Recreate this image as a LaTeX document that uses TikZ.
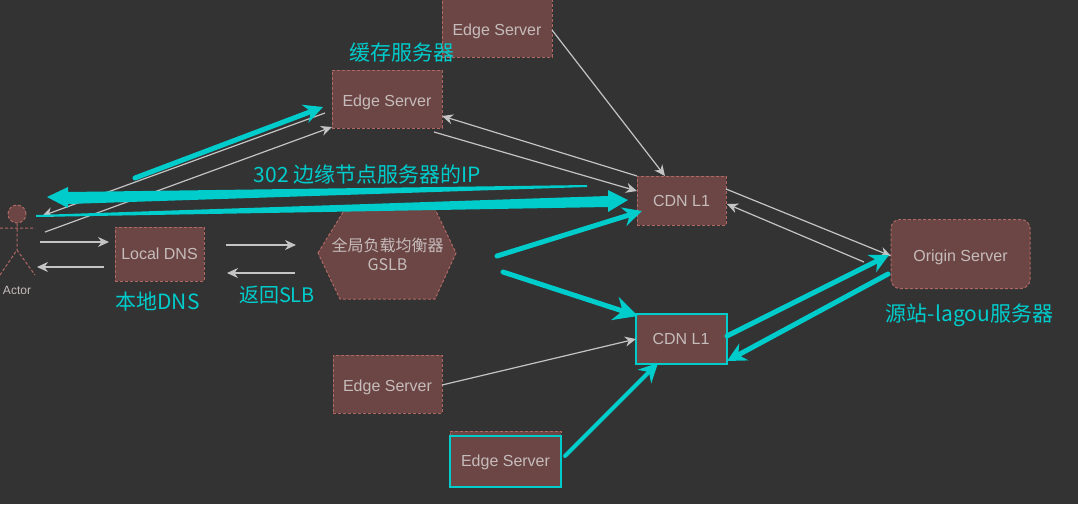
\documentclass[tikz,border=0pt]{standalone}
\usepackage{fontspec}
\setmainfont{Liberation Sans}
\newfontfamily\cjk{Noto Sans CJK SC}
\usetikzlibrary{arrows.meta}
\definecolor{bgc}{HTML}{333333}
\definecolor{boxc}{HTML}{6B4644}
\definecolor{dashc}{HTML}{B06864}
\definecolor{txtc}{HTML}{C6BCBC}
\definecolor{linec}{HTML}{C4C4C4}
\definecolor{tealc}{HTML}{00CCCC}
\tikzset{
 x=1pt,y=-1pt,
 srv/.style={draw=dashc,fill=boxc,densely dashed,line width=1pt,text=txtc,font=\fontsize{16}{18}\selectfont,inner sep=0pt,align=center},
 lowtext/.style={text height=14pt,text depth=0pt},
 lite/.style={draw=linec,line width=1.2pt,-{Stealth[length=11pt,width=10pt]}},
 thick teal/.style={draw=tealc,line width=5pt,line cap=round,-{Stealth[length=19pt,width=19pt]}},
 big teal/.style={draw=tealc,line width=5pt,line cap=round,-{Stealth[length=24pt,width=24pt]}},
 tagl/.style={text=tealc,font=\cjk\fontsize{21}{24}\selectfont,inner sep=0pt},
 actorline/.style={draw=dashc,densely dashed,line width=1pt},
 hi/.style={draw=tealc,line width=2pt}
}
\begin{document}
\begin{tikzpicture}
\fill[bgc] (0,0) rectangle (1078,504);
\useasboundingbox (0,0) rectangle (1078,504);
% nodes
\node[srv,lowtext,minimum width=110pt,minimum height=58pt] (eA) at (497,28) {Edge Server};
\node[srv,lowtext,minimum width=110pt,minimum height=58pt] (eB) at (387,99) {Edge Server};
\node[srv,minimum width=89pt,minimum height=49pt] (cA) at (681.5,200.5) {CDN L1};
\node[srv,minimum width=90pt,minimum height=49pt] (cB) at (681,338.5) {CDN L1};
\draw[hi] (cB.south west) rectangle (cB.north east);
\node[srv,lowtext,rounded corners=9pt,minimum width=139pt,minimum height=69pt] (ori) at (960.5,254) {Origin Server};
\node[srv,lowtext,minimum width=109pt,minimum height=58pt] (eC) at (387.5,384) {Edge Server};
\node[srv,lowtext,minimum width=111pt,minimum height=56pt] (eD) at (505.5,459) {Edge Server};
\draw[hi] (450,435.5) rectangle (561,487);
\node[srv,minimum width=89pt,minimum height=54pt] (dns) at (159.5,254) {Local DNS};
\path[draw=dashc,fill=boxc,densely dashed,line width=1pt] (318,253) -- (345,209) -- (435,209) -- (456,253) -- (435,299) -- (340,299) -- cycle;
\node[text=txtc,font=\cjk\fontsize{16}{19}\selectfont,align=center,inner sep=0pt] (gslb) at (387.5,254) {全局负载均衡器\\GSLB};
% actor
\node[circle,draw=dashc,fill=boxc,densely dashed,line width=1pt,minimum size=18pt,inner sep=0pt] (head) at (17,214) {};
\coordinate (armL) at (0,228); \coordinate (armR) at (35,228);
\coordinate (hip) at (17,250); \coordinate (legL) at (0,275); \coordinate (legR) at (35,275);
\draw[actorline] (head) -- (hip) (armL) -- (armR) (legL) -- (hip) -- (legR);
\node[text=txtc,font=\fontsize{12}{14}\selectfont,inner sep=0pt] (actor) at (17,290) {Actor};
% free connector ends
\coordinate (a1) at (45,232); \coordinate (a2) at (332,127);
\coordinate (b1) at (325,113); \coordinate (b2) at (42,216);
\coordinate (c1) at (40,242); \coordinate (c2) at (109,242);
\coordinate (d1) at (104,267); \coordinate (d2) at (37,267);
\coordinate (e1) at (226,245); \coordinate (e2) at (296,245);
\coordinate (f1) at (295,273); \coordinate (f2) at (227,273);
\coordinate (g1) at (434,132); \coordinate (g2) at (637,191);
\coordinate (h1) at (637,176); \coordinate (h2) at (442,116);
\coordinate (i1) at (552,30); \coordinate (i2) at (665,176);
\coordinate (j1) at (726,189); \coordinate (j2) at (891,256);
\coordinate (k1) at (864,262); \coordinate (k2) at (727,204);
\coordinate (l1) at (442,385); \coordinate (l2) at (636,339);
% light connectors
\foreach \p/\q in {a1/a2,b1/b2,c1/c2,d1/d2,e1/e2,f1/f2,g1/g2,h1/h2,i1/i2,j1/j2,k1/k2,l1/l2}{\draw[lite] (\p) -- (\q);}
% teal connectors
\coordinate (m1) at (135,178); \coordinate (m2) at (323,107);
\coordinate (n1) at (497,256); \coordinate (n2) at (642,211);
\coordinate (o1) at (503,272); \coordinate (o2) at (638,316);
\coordinate (p1) at (727,336); \coordinate (p2) at (889,255);
\coordinate (q1) at (888,274); \coordinate (q2) at (727,361);
\coordinate (r1) at (565,456); \coordinate (r2) at (658,363);
\draw[thick teal] (m1) -- (m2);
\draw[thick teal] (n1) -- (n2);
\draw[big teal] (o1) -- (o2);
\draw[thick teal] (p1) -- (p2);
\draw[thick teal] (q1) -- (q2);
\draw[thick teal,line width=4pt] (r1) -- (r2);
% tapered arrows
\fill[tealc] (587,185) -- (587,187) -- (68,204) -- (68,208) -- (47,197) -- (68,187) -- (68,192) -- cycle;
\fill[tealc] (36,215) -- (36,217) -- (608,207) -- (608,212) -- (628,200) -- (608,190) -- (608,196) -- cycle;
% labels
\node[tagl] (t1) at (402,53) {缓存服务器};
\node[tagl] (t2) at (367.5,174) {302 边缘节点服务器的IP};
\node[tagl] (t3) at (157.5,302) {本地DNS};
\node[tagl,font=\cjk\fontsize{20}{24}\selectfont] (t4) at (277,295) {返回SLB};
\node[tagl] (t5) at (969.5,315) {源站-lagou服务器};
\end{tikzpicture}
\end{document}
